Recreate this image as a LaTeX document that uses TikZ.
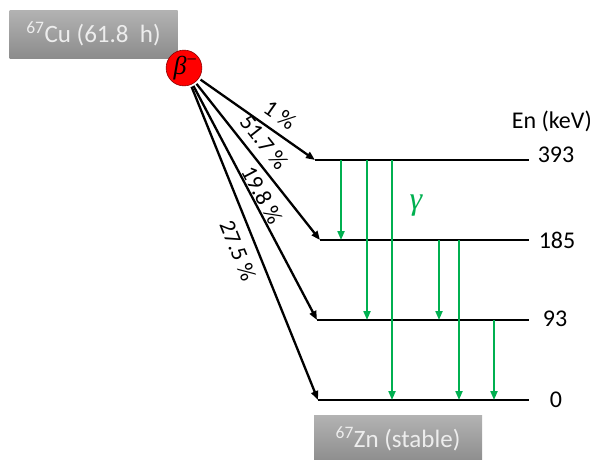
\documentclass[tikz,border=0pt]{standalone}
\usepackage{fontspec}
\setmainfont{Carlito}
\newfontfamily\grk{Liberation Serif}
\usetikzlibrary{arrows.meta}
\definecolor{gamgreen}{RGB}{0,176,80}

\begin{document}
\begin{tikzpicture}[
  x=1pt,y=-1pt,
  font=\fontsize{24}{28}\selectfont,
  >={Triangle[length=9pt,width=7pt]},
  lev/.style={line width=2.3pt,black},
  bet/.style={->,line width=2.3pt,black,shorten <=2pt},
  gam/.style={->,line width=2pt,gamgreen},
  pct/.style={inner sep=0pt,font=\fontsize{23}{27}\selectfont},
  box/.style={top color=black!30,bottom color=black!45,text=white!93!black,
    minimum width=168pt,minimum height=48pt,inner sep=0pt,
    font=\fontsize{25}{29}\selectfont}
]
\useasboundingbox (0,0) rectangle (594,459);

% niveluri de energie
\foreach \e/\y/\xs in {393/160/315,185/240/320,93/320/317,0/400/318}{
  \coordinate (L\e s) at (\xs,\y);
  \coordinate (L\e e) at (529,\y);
  \draw[lev] (L\e s) -- (L\e e);
}
\node (t393) at (556,155) {393};
\node (t185) at (557,240) {185};
\node (t93)  at (555,319) {93};
\node (t0)   at (556,400) {0};
\node[anchor=east,inner sep=0pt] (unit) at (592,121) {En (keV)};

% cutii parinte / fiica
\node[box] (cu) at (93.5,34) {\textsuperscript{67}Cu (61.8\ \ h)};
\node[box] (zn) at (398,439) {\textsuperscript{67}Zn (stable)};

% dezintegrare beta
\node[circle,fill=red,draw=red!55!black,line width=0.6pt,minimum size=34pt,
  inner sep=0pt,font=\fontsize{26}{30}\grk\itshape] (beta) at (184,68)
  {\hspace*{3pt}β\textsuperscript{\upshape −}};
\draw[bet] (beta) -- (L393s);
\draw[bet] (beta) -- (L185s);
\draw[bet] (beta) -- (L93s);
\draw[bet] (beta) -- (L0s);
\node[pct,rotate=-35.1] (p1)  at (280,115) {1 \%};
\node[pct,rotate=-51.7] (p2)  at (264,142) {51.7 \%};
\node[pct,rotate=-62.2] (p3)  at (262,195) {19.8 \%};
\node[pct,rotate=-68.0] (p4)  at (238,251) {27.5 \%};

% tranzitii gamma
\foreach \n/\x in {1/341,2/367,3/392,4/439,5/459,6/494}
  \coordinate (g\n) at (\x,0);
\draw[gam] (g1 |- L393s) -- (g1 |- L185s);
\draw[gam] (g2 |- L393s) -- (g2 |- L93s);
\draw[gam] (g3 |- L393s) -- (g3 |- L0s);
\draw[gam] (g4 |- L185s) -- (g4 |- L93s);
\draw[gam] (g5 |- L185s) -- (g5 |- L0s);
\draw[gam] (g6 |- L93s)  -- (g6 |- L0s);
\node[text=gamgreen,font=\fontsize{32}{36}\grk\itshape] (gamma) at (416,206) {γ};

\end{tikzpicture}
\end{document}
